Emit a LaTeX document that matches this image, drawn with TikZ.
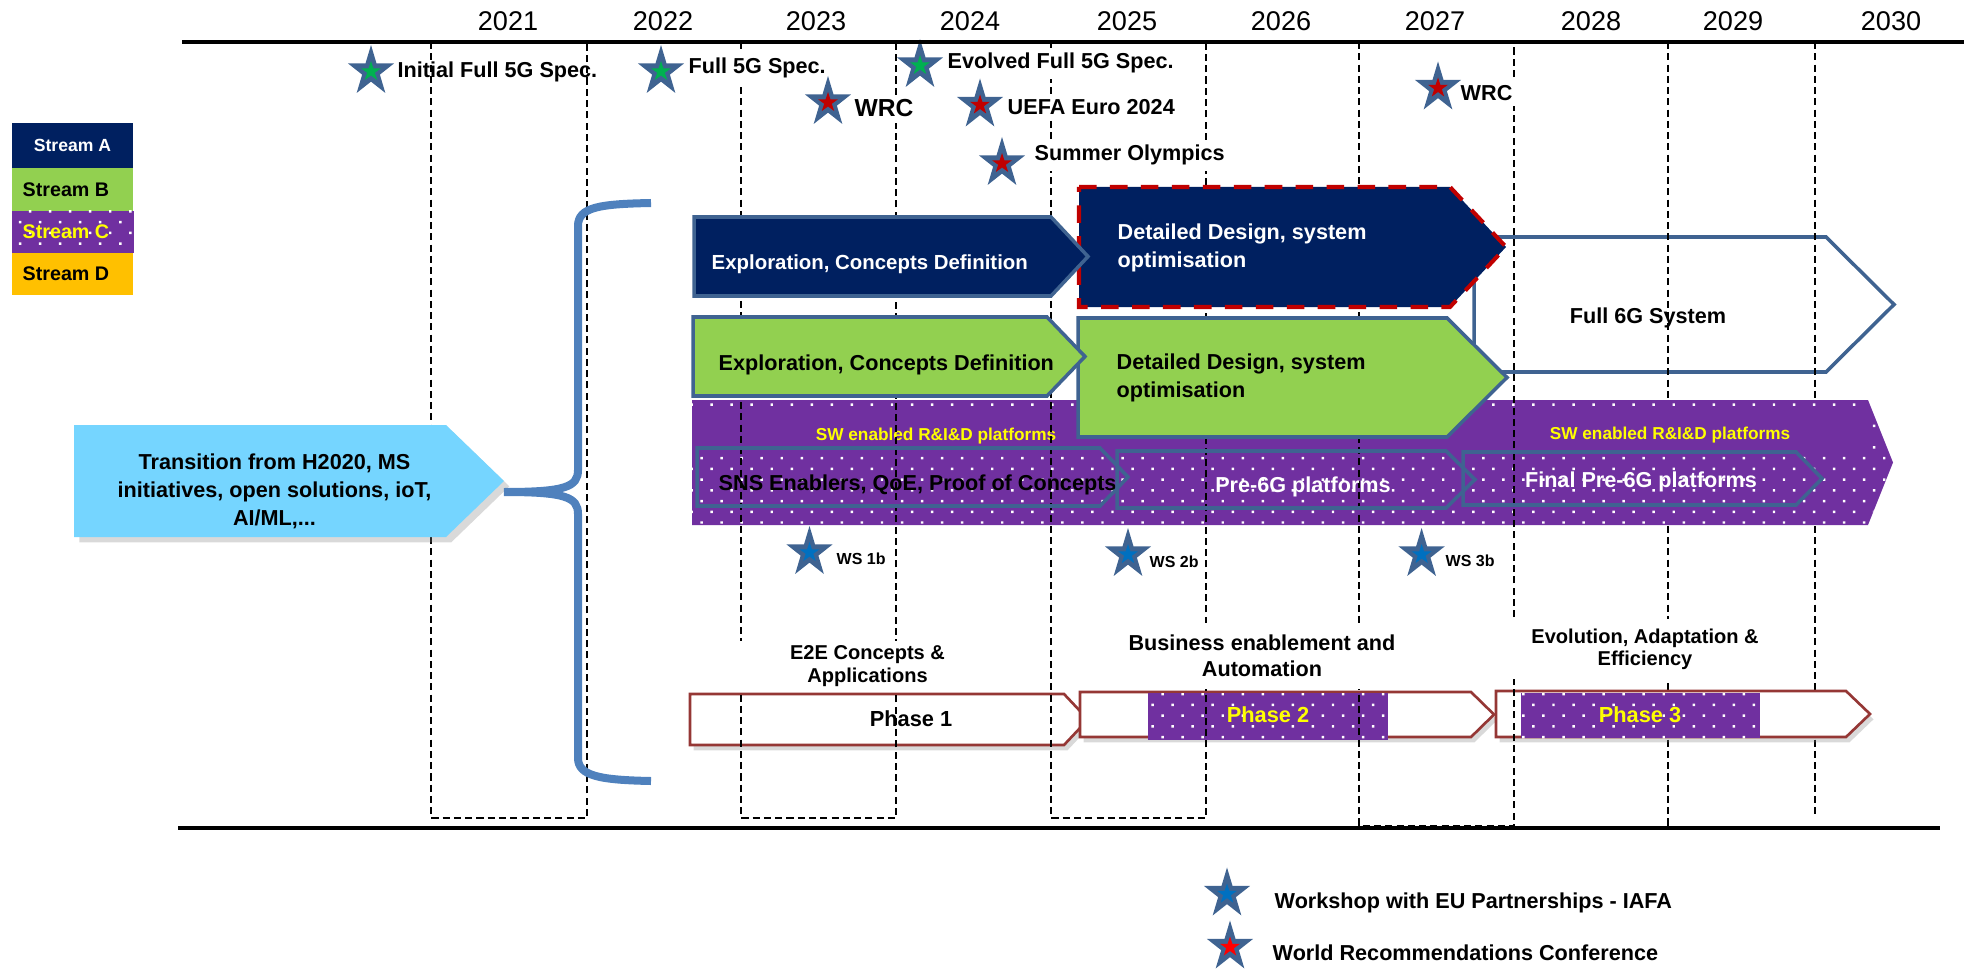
\documentclass[tikz,border=0pt]{standalone}
\usepackage{fontspec}
\setmainfont{Liberation Sans}
\usepackage{xcolor}
\usetikzlibrary{shapes.geometric,patterns,shadows,positioning}

\definecolor{navyA}{HTML}{002060}
\definecolor{greenB}{HTML}{92D050}
\definecolor{purpleC}{HTML}{7030A0}
\definecolor{goldD}{HTML}{FFC000}
\definecolor{edgeblue}{HTML}{3F6391}
\definecolor{bracecol}{HTML}{4F81BD}
\definecolor{skyblue}{HTML}{75D5FF}
\definecolor{phasered}{HTML}{953735}
\definecolor{dashred}{HTML}{C00000}
\definecolor{specgreen}{HTML}{00B050}
\definecolor{wsblue}{HTML}{0070C0}
\definecolor{ylw}{HTML}{FFFF00}

\pgfdeclarepatternformonly{sparsedots}{\pgfqpoint{-1pt}{-1pt}}{\pgfqpoint{6.7pt}{7.1pt}}{\pgfqpoint{5.7pt}{6.1pt}}{%
\pgfpathrectangle{\pgfqpoint{-0.35pt}{-0.35pt}}{\pgfqpoint{0.7pt}{0.7pt}}%
\pgfpathrectangle{\pgfqpoint{2.5pt}{2.7pt}}{\pgfqpoint{0.7pt}{0.7pt}}%
\pgfusepath{fill}}

\newcommand{\chev}[5]{(#1,#2) -- (#3,#2) -- (#4,{(#2+#5)/2}) -- (#3,#5) -- (#1,#5) -- cycle}

\begin{document}
\begin{tikzpicture}[x=0.01cm, y=-0.01cm,
yr/.style = {font=\fontsize{7.7}{9}\selectfont, anchor=base, inner sep=0pt},
lbl/.style = {font=\bfseries\fontsize{6.15}{8}\selectfont, inner sep=0pt},
small lbl/.style = {font=\bfseries\fontsize{5.7}{6.5}\selectfont, inner sep=0pt},
sw/.style = {font=\bfseries\fontsize{4.9}{6}\selectfont, text=ylw, inner sep=0pt},
legtxt/.style = {font=\bfseries\fontsize{5.6}{6.5}\selectfont, inner sep=0pt, anchor=west},
ph/.style = {font=\bfseries\fontsize{6.2}{7}\selectfont, inner sep=0pt},
whitebg/.style = {fill=white, inner xsep=1pt, inner ysep=1.5pt},
outstar/.style = {star, star points=5, star point ratio=2.618, minimum size=0.53cm, inner sep=0pt, fill=edgeblue, xscale=0.92},
instar/.style = {star, star points=5, star point ratio=2.618, minimum size=0.21cm, inner sep=0pt, fill=#1},
gridline/.style = {dash pattern=on 2pt off 1.2pt, line width=0.7pt},
dotfill/.style = {fill=purpleC, postaction={pattern=sparsedots, pattern color=white}},
chevA/.style = {fill=navyA, draw=edgeblue, line width=1pt},
chevB/.style = {fill=greenB, draw=edgeblue, line width=1pt},
inchev/.style = {draw=edgeblue, line width=1pt},
phasebox/.style = {fill=white, draw=phasered, line width=0.75pt, drop shadow={shadow xshift=1pt, shadow yshift=-1.5pt, opacity=0.3}}]
\useasboundingbox (0,0) rectangle (1964,973);

\draw[inchev] \chev{1474}{237}{1826}{1894}{372};
\node[lbl] (f6g) at (1648,318) {Full 6G System};

\draw[gridline] (1668,42) -- (1668,826);
\draw[gridline] (1815,42) -- (1815,815);

\fill[dotfill] \chev{692}{400}{1868}{1893}{525};
\fill[purpleC] (692,413) rectangle (1870,451);
\node[sw] (swL) at (936,436) {SW enabled R\&I\&D platforms};
\node[sw] (swR) at (1670,435) {SW enabled R\&I\&D platforms};

\draw[phasebox] \chev{690}{694}{1064}{1088}{745};
\node[ph] (p1) at (911,719) {Phase 1};
\draw[phasebox] \chev{1080}{692}{1471}{1494}{737};
\fill[dotfill] (1148,693) rectangle (1388,740);
\node[ph, text=ylw] (p2) at (1268,715) {Phase 2};
\draw[phasebox] \chev{1496}{691}{1846}{1870}{737};
\fill[dotfill] (1521,693) rectangle (1760,738);
\node[ph, text=ylw] (p3) at (1640,715) {Phase 3};

\draw[gridline] (431,42) rectangle (587,818);
\draw[gridline] (741,42) rectangle (896,818);
\draw[gridline] (1051,42) rectangle (1206,818);
\draw[gridline] (1359,42) rectangle (1514,826);

\draw[fill=navyA, draw=dashred, line width=1.15pt, dash pattern=on 5pt off 3.8pt] \chev{1079}{187}{1450}{1506}{307};
\node[lbl, text=white, align=left, anchor=west] (ddA) at (1117,248) {Detailed Design, system\\optimisation};
\draw[chevB] \chev{1078}{318}{1447}{1507}{437};
\node[lbl, align=left, anchor=west] (ddB) at (1116,378) {Detailed Design, system\\optimisation};

\draw[chevA] \chev{694}{217}{1051}{1088}{296};
\node[lbl, font=\bfseries\fontsize{5.8}{7}\selectfont, text=white, anchor=west] (exA) at (711,264) {Exploration, Concepts Definition};
\draw[chevB] \chev{693}{317}{1047}{1085}{396};
\node[lbl, anchor=west] (exB) at (718,365) {Exploration, Concepts Definition};

\draw[inchev] \chev{697}{448}{1100}{1128}{506};
\node[lbl, anchor=west] (sns) at (718,485) {SNS Enablers, QoE, Proof of Concepts};
\draw[inchev] \chev{1117}{451}{1446}{1475}{508};
\node[lbl, text=white] (pre) at (1303,487) {Pre-6G platforms};
\draw[inchev] \chev{1463}{452}{1796}{1822}{505};
\node[lbl, text=white] (fin) at (1641,482) {Final Pre-6G platforms};

\node[small lbl, fill=white, align=center, minimum width=2.65cm, inner ysep=0.04cm] (e2e) at (867.5,666) {E2E Concepts \&\\Applications};
\node[lbl, font=\bfseries\fontsize{6.15}{7.5}\selectfont, fill=white, align=center, inner xsep=0.1cm, inner ysep=0.12cm] (bus) at (1262,656) {Business enablement and\\Automation};
\node[small lbl, font=\bfseries\fontsize{5.7}{6.3}\selectfont, fill=white, align=center, minimum width=2.7cm, inner ysep=0.1cm] (evo) at (1645,649) {Evolution, Adaptation \&\\Efficiency};

\node[lbl, anchor=base west] (t1) at (397,78) {Initial Full 5G Spec.};
\node[lbl, whitebg, anchor=base west] (t2) at (684.5,74) {Full 5G Spec.};
\node[lbl, whitebg, anchor=base west] (t3) at (943.5,69) {Evolved Full 5G Spec.};
\node[lbl, whitebg, font=\bfseries\fontsize{7}{8}\selectfont, anchor=base west] (t4) at (850.5,117) {WRC};
\node[lbl, whitebg, anchor=base west] (t5) at (1003.5,115) {UEFA Euro 2024};
\node[lbl, whitebg, anchor=base west] (t6) at (1030.5,161) {Summer Olympics};
\node[lbl, whitebg, anchor=base west] (t7) at (1456.5,101) {WRC};

\node[outstar] (s1) at (371,71.5) {};
\node[instar=specgreen] (s1i) at (s1) {};
\node[outstar] (s2) at (661,71.5) {};
\node[instar=specgreen] (s2i) at (s2) {};
\node[outstar] (s3) at (920,65.5) {};
\node[instar=specgreen] (s3i) at (s3) {};
\node[outstar] (s4) at (828,102.5) {};
\node[instar=dashred] (s4i) at (s4) {};
\node[outstar] (s5) at (980,105) {};
\node[instar=dashred] (s5i) at (s5) {};
\node[outstar] (s6) at (1002,163.5) {};
\node[instar=dashred] (s6i) at (s6) {};
\node[outstar] (s7) at (1438,88) {};
\node[instar=dashred] (s7i) at (s7) {};

\node[outstar] (ws1) at (809.5,552.5) {};
\node[instar=wsblue] (ws1i) at (ws1) {};
\node[lbl, font=\bfseries\fontsize{4.55}{5}\selectfont, anchor=base west] (ws1t) at (836,564) {WS 1b};
\node[outstar] (ws2) at (1128,554.5) {};
\node[instar=wsblue] (ws2i) at (ws2) {};
\node[lbl, font=\bfseries\fontsize{4.55}{5}\selectfont, anchor=base west] (ws2t) at (1149,567) {WS 2b};
\node[outstar] (ws3) at (1421.6,554.5) {};
\node[instar=wsblue] (ws3i) at (ws3) {};
\node[lbl, font=\bfseries\fontsize{4.55}{5}\selectfont, anchor=base west] (ws3t) at (1445,566) {WS 3b};

\fill[skyblue, drop shadow={shadow xshift=1.5pt, shadow yshift=-1.5pt, opacity=0.3}] \chev{74}{425}{446}{504}{537};
\node[lbl, align=center] (trans) at (274.5,491) {Transition from H2020, MS\\initiatives, open solutions, ioT,\\AI/ML,...};
\draw[bracecol, line width=0.08cm] (651,203) .. controls (600,204) and (578,207) .. (578,226) -- (578,470) .. controls (578,487) and (565,492) .. (504,492) .. controls (565,492) and (578,497) .. (578,514) -- (578,758) .. controls (578,776) and (600,780) .. (651,781);

\fill[navyA] (12,123) rectangle (133,168);
\fill[greenB] (12,168) rectangle (133,211);
\fill[dotfill] (12,211) rectangle (134,253);
\fill[goldD] (12,253) rectangle (133,295);
\node[font=\bfseries\fontsize{5}{6}\selectfont, text=white, inner sep=0pt] (legA) at (72.5,145.5) {Stream A};
\node[legtxt] (legB) at (22,189.5) {Stream B};
\node[legtxt, text=ylw] (legC) at (22,232) {Stream C};
\node[legtxt] (legD) at (22,274) {Stream D};

\foreach \yy/\xx in {2021/508, 2022/663, 2023/816, 2024/970, 2025/1127, 2026/1281, 2027/1435, 2028/1591, 2029/1733, 2030/1891}
  \node[yr] (y\yy) at (\xx,31) {\yy};
\draw[line width=1pt] (182,42) -- (1964,42);
\draw[line width=1pt] (178,828) -- (1940,828);

\node[outstar] (lg1) at (1227,894) {};
\node[instar=wsblue] (lg1i) at (lg1) {};
\node[lbl, anchor=base west] (lg1t) at (1274,908) {Workshop with EU Partnerships - IAFA};
\node[outstar] (lg2) at (1230,947) {};
\node[instar=red] (lg2i) at (lg2) {};
\node[lbl, anchor=base west] (lg2t) at (1272,960) {World Recommendations Conference};
\end{tikzpicture}
\end{document}
